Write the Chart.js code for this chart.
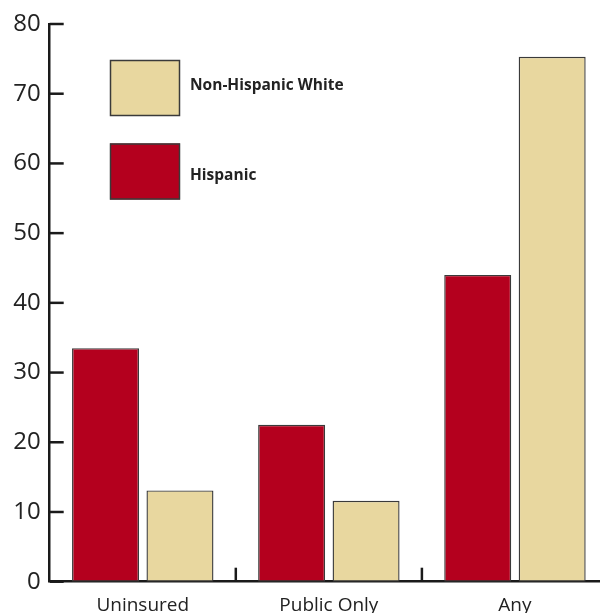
<!DOCTYPE html>
<html>
<head>
<meta charset="utf-8">
<script src="https://cdn.jsdelivr.net/npm/chart.js@4/dist/chart.umd.min.js"></script>
<style>
  html, body { margin: 0; padding: 0; background: #ffffff; overflow: hidden; }
  #wrap { position: absolute; left: 0; top: 0; width: 608px; height: 613px; }
</style>
</head>
<body>
<div id="wrap"><canvas id="chart" width="608" height="613"></canvas></div>
<script>
// Coverage categories along the x axis
const categories = ['Uninsured', 'Public Only', 'Any'];
// Percent values per group
const hispanic = [33.5, 22.5, 44.0];
const nonHispanicWhite = [13.1, 11.6, 75.3];
// Y axis tick values
const yTicks = [0, 10, 20, 30, 40, 50, 60, 70, 80];

const RED = '#b4001e';
const TAN = '#e8d79f';
const EDGE = '#3a3a3a';
const AXIS = '#1a1a1a';

// Short tick marks pointing into the plot area, plus category separators on the x axis
const inwardTicks = {
  id: 'inwardTicks',
  afterDatasetsDraw(chart) {
    const { ctx, chartArea, scales } = chart;
    ctx.save();
    ctx.strokeStyle = AXIS;
    ctx.lineWidth = 2.5;
    ctx.lineCap = 'butt';
    scales.y.ticks.forEach(t => {
      const y = scales.y.getPixelForValue(t.value);
      ctx.beginPath();
      ctx.moveTo(chartArea.left, y);
      ctx.lineTo(chartArea.left + 14, y);
      ctx.stroke();
    });
    const n = categories.length;
    const w = (chartArea.right - chartArea.left) / n;
    for (let i = 1; i < n; i++) {
      const x = chartArea.left + i * w;
      ctx.beginPath();
      ctx.moveTo(x, chartArea.bottom);
      ctx.lineTo(x, chartArea.bottom - 14);
      ctx.stroke();
    }
    ctx.restore();
  }
};

// Legend drawn as large swatches inside the plot, White first then Hispanic
const boxLegend = {
  id: 'boxLegend',
  afterDraw(chart) {
    const { ctx } = chart;
    const rows = [
      { di: 1, boxY: 60, textY: 86 },
      { di: 0, boxY: 143.5, textY: 176 }
    ];
    ctx.save();
    rows.forEach(r => {
      const ds = chart.data.datasets[r.di];
      const x = 110, w = 70, h = 56;
      ctx.fillStyle = ds.backgroundColor;
      ctx.fillRect(x, r.boxY, w, h);
      ctx.strokeStyle = EDGE;
      ctx.lineWidth = 1.5;
      ctx.strokeRect(x + 0.5, r.boxY + 0.5, w - 1, h - 1);
      ctx.fillStyle = '#222222';
      ctx.font = 'bold 15.5px "Open Sans", "Noto Sans", sans-serif';
      ctx.textBaseline = 'middle';
      ctx.textAlign = 'left';
      ctx.fillText(ds.label, 190, r.textY);
    });
    ctx.restore();
  }
};

new Chart(document.getElementById('chart'), {
  type: 'bar',
  data: {
    labels: categories,
    datasets: [
      {
        label: 'Hispanic',
        data: hispanic,
        backgroundColor: RED,
        borderColor: EDGE,
        borderWidth: 1.4,
        borderSkipped: false
      },
      {
        label: 'Non-Hispanic White',
        data: nonHispanicWhite,
        backgroundColor: TAN,
        borderColor: EDGE,
        borderWidth: 1.4,
        borderSkipped: false
      }
    ]
  },
  options: {
    responsive: false,
    devicePixelRatio: 1,
    animation: false,
    layout: { padding: { top: 24, right: 0, bottom: 0, left: 0 } },
    plugins: {
      legend: { display: false },
      tooltip: { enabled: false }
    },
    datasets: {
      bar: { categoryPercentage: 0.8, barPercentage: 0.9 }
    },
    scales: {
      x: {
        grid: { display: false, drawTicks: false },
        border: { display: true, color: AXIS, width: 2.5 },
        ticks: {
          color: '#222222',
          padding: 12,
          font: { family: '"Open Sans", "Noto Sans", sans-serif', size: 19 }
        },
        afterFit(scale) { scale.height = 31.3; }
      },
      y: {
        min: 0,
        max: 80,
        afterBuildTicks(scale) { scale.ticks = yTicks.map(v => ({ value: v })); },
        grid: { display: false, drawTicks: false },
        border: { display: true, color: AXIS, width: 2.5 },
        ticks: {
          color: '#222222',
          padding: 9,
          font: { family: '"Open Sans", "Noto Sans", sans-serif', size: 24 }
        },
        afterFit(scale) { scale.width = 49.7; }
      }
    }
  },
  plugins: [inwardTicks, boxLegend]
});
</script>
</body>
</html>
